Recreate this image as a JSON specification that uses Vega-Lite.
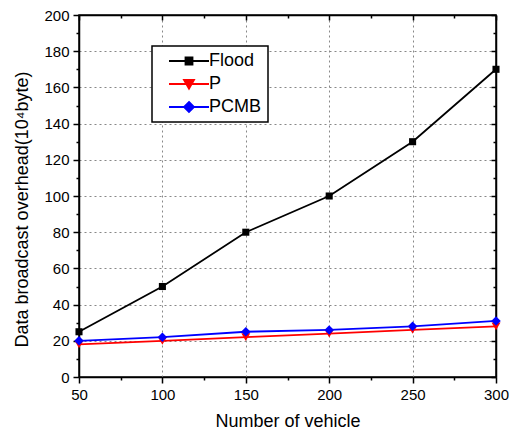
{
  "$schema": "https://vega.github.io/schema/vega-lite/v6.json",
  "width": 417,
  "height": 362,
  "autosize": {"type": "none"},
  "padding": {"left": 79, "top": 15, "right": 13, "bottom": 60},
  "background": "white",
  "config": {
    "view": {"stroke": "black", "strokeWidth": 1.5},
    "font": "Liberation Sans"
  },
  "data": {
    "values": [
      {"vehicles": 50, "overhead": 25, "series": "Flood"},
      {"vehicles": 100, "overhead": 50, "series": "Flood"},
      {"vehicles": 150, "overhead": 80, "series": "Flood"},
      {"vehicles": 200, "overhead": 100, "series": "Flood"},
      {"vehicles": 250, "overhead": 130, "series": "Flood"},
      {"vehicles": 300, "overhead": 170, "series": "Flood"},
      {"vehicles": 50, "overhead": 18, "series": "P"},
      {"vehicles": 100, "overhead": 20, "series": "P"},
      {"vehicles": 150, "overhead": 22, "series": "P"},
      {"vehicles": 200, "overhead": 24, "series": "P"},
      {"vehicles": 250, "overhead": 26, "series": "P"},
      {"vehicles": 300, "overhead": 28, "series": "P"},
      {"vehicles": 50, "overhead": 20, "series": "PCMB"},
      {"vehicles": 100, "overhead": 22, "series": "PCMB"},
      {"vehicles": 150, "overhead": 25, "series": "PCMB"},
      {"vehicles": 200, "overhead": 26, "series": "PCMB"},
      {"vehicles": 250, "overhead": 28, "series": "PCMB"},
      {"vehicles": 300, "overhead": 31, "series": "PCMB"}
    ]
  },
  "resolve": {"axis": {"x": "independent", "y": "independent"}},
  "layer": [
    {
      "mark": {"type": "line", "strokeWidth": 1.8},
      "encoding": {
        "x": {
          "field": "vehicles", "type": "quantitative",
          "scale": {"domain": [50, 300], "nice": false, "zero": false},
          "axis": {
            "orient": "bottom", "values": [50, 75, 100, 125, 150, 175, 200, 225, 250, 275, 300],
            "tickSize": {"condition": {"test": "datum.value % 50 === 0", "value": 6}, "value": 3},
            "tickWidth": 1.5, "tickColor": "black",
            "domainColor": "black", "domainWidth": 1.5,
            "labelExpr": "datum.value % 50 === 0 ? datum.label : ''",
            "labelFontSize": 15, "labelFont": "Liberation Sans", "labelColor": "black", "labelPadding": 4,
            "labelFlush": false,
            "title": "Number of vehicle", "titleFontSize": 18, "titleFontWeight": "normal", "titleFont": "Liberation Sans", "titleColor": "black", "titlePadding": 10,
            "grid": true, "gridDash": [2, 3], "gridColor": "#888888", "gridWidth": 1,
            "gridOpacity": {"condition": {"test": "datum.value % 50 === 0", "value": 1}, "value": 0}
          }
        },
        "y": {
          "field": "overhead", "type": "quantitative",
          "scale": {"domain": [0, 200], "nice": false},
          "axis": {
            "orient": "left", "values": [0, 10, 20, 30, 40, 50, 60, 70, 80, 90, 100, 110, 120, 130, 140, 150, 160, 170, 180, 190, 200],
            "tickSize": {"condition": {"test": "datum.value % 20 === 0", "value": 6}, "value": 3},
            "tickWidth": 1.5, "tickColor": "black",
            "domainColor": "black", "domainWidth": 1.5,
            "labelExpr": "datum.value % 20 === 0 ? datum.label : ''",
            "labelFontSize": 15, "labelFont": "Liberation Sans", "labelColor": "black", "labelPadding": 4,
            "labelFlush": false,
            "title": "Data broadcast overhead(10⁴byte)", "titleFontSize": 18, "titleFontWeight": "normal", "titleFont": "Liberation Sans", "titleColor": "black",
            "titleX": -57, "titleY": 194, "titleAngle": -90, "titleAlign": "center", "titleBaseline": "middle",
            "grid": true, "gridDash": [2, 3], "gridColor": "#888888", "gridWidth": 1,
            "gridOpacity": {"condition": {"test": "datum.value % 20 === 0", "value": 1}, "value": 0}
          }
        },
        "color": {
          "field": "series", "type": "nominal", "title": null,
          "scale": {"domain": ["Flood", "P", "PCMB"], "range": ["#000000", "#ff0000", "#0000ff"]},
          "legend": {
            "orient": "none", "legendX": 73, "legendY": 31,
            "strokeColor": "black", "padding": 6, "fillColor": "white",
            "symbolSize": 100, "symbolOffset": 22, "labelOffset": 11,
            "labelFontSize": 18, "labelFont": "Liberation Sans", "labelColor": "black",
            "rowPadding": 5,
            "encode": {
              "legend": {"update": {"strokeWidth": {"value": 1.5}}},
              "symbols": {
                "update": {
                  "shape": {"signal": "datum.value === 'Flood' ? 'M-4,0H4M-0.7,-0.7H0.7V0.7H-0.7Z' : datum.value === 'P' ? 'M-4,0H4M-1,-0.8L1,-0.8L0,0.95Z' : 'M-4,0H4M0,-1L1,0L0,1L-1,0Z'"},
                  "stroke": {"signal": "datum.value === 'Flood' ? '#000000' : datum.value === 'P' ? '#ff0000' : '#0000ff'"},
                  "fill": {"signal": "datum.value === 'Flood' ? '#000000' : datum.value === 'P' ? '#ff0000' : '#0000ff'"},
                  "strokeWidth": {"value": 1.8},
                  "opacity": {"value": 1}
                }
              }
            }
          }
        },
        "detail": {"field": "series"}
      }
    },
    {
      "transform": [{"filter": "datum.series === 'Flood'"}],
      "mark": {"type": "point", "filled": true, "opacity": 1, "shape": "square", "size": 50, "color": "#000000"},
      "encoding": {
        "x": {"field": "vehicles", "type": "quantitative", "axis": null},
        "y": {"field": "overhead", "type": "quantitative", "axis": null}
      }
    },
    {
      "transform": [{"filter": "datum.series === 'P'"}],
      "mark": {"type": "point", "filled": true, "opacity": 1, "shape": "triangle-down", "size": 80, "color": "#ff0000"},
      "encoding": {
        "x": {"field": "vehicles", "type": "quantitative", "axis": null},
        "y": {"field": "overhead", "type": "quantitative", "axis": null}
      }
    },
    {
      "transform": [{"filter": "datum.series === 'PCMB'"}],
      "mark": {"type": "point", "filled": true, "opacity": 1, "shape": "diamond", "size": 90, "color": "#0000ff"},
      "encoding": {
        "x": {"field": "vehicles", "type": "quantitative", "axis": null},
        "y": {"field": "overhead", "type": "quantitative", "axis": null}
      }
    },
    {
      "mark": {"type": "point", "opacity": 0},
      "encoding": {
        "x": {
          "field": "vehicles", "type": "quantitative",
          "axis": {
            "orient": "top", "values": [50, 75, 100, 125, 150, 175, 200, 225, 250, 275, 300],
            "tickSize": {"condition": {"test": "datum.value % 50 === 0", "value": -5}, "value": -3},
            "tickWidth": 1.5, "tickColor": "black", "labels": false, "domain": true, "domainColor": "black", "domainWidth": 1.5, "grid": false, "title": null
          }
        },
        "y": {
          "field": "overhead", "type": "quantitative",
          "axis": {
            "orient": "right", "values": [0, 10, 20, 30, 40, 50, 60, 70, 80, 90, 100, 110, 120, 130, 140, 150, 160, 170, 180, 190, 200],
            "tickSize": {"condition": {"test": "datum.value % 20 === 0", "value": -5}, "value": -3},
            "tickWidth": 1.5, "tickColor": "black", "labels": false, "domain": true, "domainColor": "black", "domainWidth": 1.5, "grid": false, "title": null
          }
        }
      }
    }
  ]
}
